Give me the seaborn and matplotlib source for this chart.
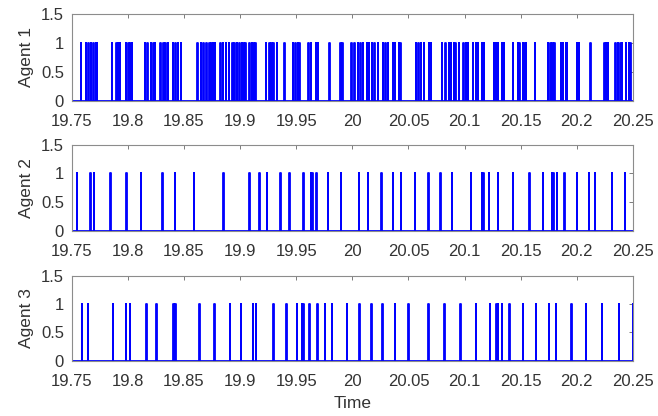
import matplotlib
matplotlib.use("Agg")
import matplotlib.pyplot as plt
import seaborn as sns
import pandas as pd

# switching instants (time of each pulse)
agent1_times = [
    19.7580, 19.7627, 19.7648, 19.7669, 19.7693, 19.7714, 19.7725,
    19.7859, 19.7895, 19.7910, 19.7930, 19.7981, 19.8002, 19.8020, 19.8037,
    19.8150, 19.8174, 19.8204, 19.8228, 19.8242, 19.8287, 19.8317, 19.8334,
    19.8355, 19.8400, 19.8424, 19.8444, 19.8471,
    19.8620, 19.8649, 19.8673, 19.8697, 19.8724, 19.8742, 19.8756, 19.8774,
    19.8822, 19.8846, 19.8872, 19.8899, 19.8929, 19.8947, 19.8970, 19.8991,
    19.9015, 19.9030, 19.9048, 19.9083, 19.9104, 19.9119, 19.9134,
    19.9229, 19.9261, 19.9276, 19.9297, 19.9327, 19.9395, 19.9469, 19.9490,
    19.9514, 19.9529, 19.9609, 19.9630, 19.9674, 19.9692, 19.9796, 19.9891,
    19.9909, 19.9992, 20.0016, 20.0046, 20.0070, 20.0093, 20.0129, 20.0147,
    20.0173, 20.0194, 20.0227, 20.0272, 20.0295, 20.0316, 20.0361, 20.0378,
    20.0414, 20.0426, 20.0566, 20.0586, 20.0610, 20.0634, 20.0679, 20.0699,
    20.0797, 20.0827, 20.0857, 20.0878, 20.0901, 20.0916, 20.0946, 20.0990,
    20.1008, 20.1029, 20.1074, 20.1097, 20.1115, 20.1154, 20.1169, 20.1258,
    20.1276, 20.1294, 20.1332, 20.1347, 20.1430, 20.1472, 20.1487, 20.1516,
    20.1531, 20.1543, 20.1623, 20.1742, 20.1763, 20.1781, 20.1799, 20.1858,
    20.1876, 20.1900, 20.1912, 20.2001, 20.2015, 20.2119, 20.2244, 20.2259,
    20.2274, 20.2342, 20.2363, 20.2387, 20.2402, 20.2437, 20.2461, 20.2476,
]
agent2_times = [
    19.7545, 19.7666, 19.7696, 19.7844, 19.7984, 19.8115, 19.8305, 19.8418,
    19.8587, 19.8849, 19.9080, 19.9169, 19.9238, 19.9359, 19.9439, 19.9564,
    19.9630, 19.9642, 19.9677, 19.9782, 19.9897, 20.0055, 20.0135, 20.0257,
    20.0361, 20.0429, 20.0554, 20.0678, 20.0782, 20.0887, 20.1053, 20.1154,
    20.1166, 20.1213, 20.1293, 20.1430, 20.1578, 20.1698, 20.1775, 20.1790,
    20.1822, 20.1888, 20.2000, 20.2108, 20.2158, 20.2309, 20.2425,
]
agent3_times = [
    19.7592, 19.7645, 19.7865, 19.7981, 19.8017, 19.8165, 19.8254, 19.8403,
    19.8421, 19.8635, 19.8768, 19.8908, 19.9006, 19.9113, 19.9140, 19.9297,
    19.9410, 19.9505, 19.9550, 19.9564, 19.9618, 19.9689, 19.9755, 19.9817,
    19.9951, 20.0061, 20.0168, 20.0268, 20.0379, 20.0500, 20.0678, 20.0818,
    20.0961, 20.1101, 20.1222, 20.1282, 20.1297, 20.1332, 20.1398, 20.1520,
    20.1632, 20.1751, 20.1810, 20.1950, 20.2078, 20.2220, 20.2372, 20.2496,
]
agent_names = ["Agent 1", "Agent 2", "Agent 3"]
x_ticks = [19.75, 19.8, 19.85, 19.9, 19.95, 20.0, 20.05, 20.1, 20.15, 20.2, 20.25]
x_tick_labels = ["19.75", "19.8", "19.85", "19.9", "19.95", "20", "20.05",
                 "20.1", "20.15", "20.2", "20.25"]
y_ticks = [0, 0.5, 1, 1.5]
y_tick_labels = ["0", "0.5", "1", "1.5"]
t_start, t_end = 19.75, 20.25
pulse_width = 0.0004


def pulse_train(times):
    # turn the event times into a 0/1 pulse signal
    xs, ys = [t_start], [0]
    for t in sorted(times):
        xs += [t, t, t + pulse_width, t + pulse_width]
        ys += [0, 1, 1, 0]
    xs.append(t_end)
    ys.append(0)
    return pd.DataFrame({"time": xs, "state": ys})


sns.set_theme(style="white")
plt.rcParams["font.family"] = ["Liberation Sans", "DejaVu Sans"]
plt.rcParams["xtick.direction"] = "in"
plt.rcParams["ytick.direction"] = "in"

fig = plt.figure(figsize=(6.58, 4.16), dpi=100)
# axes boxes (left, bottom, width, height) in figure fractions
boxes = [(0.109, 0.758, 0.853, 0.208),
         (0.109, 0.445, 0.853, 0.207),
         (0.109, 0.133, 0.853, 0.204)]

for name, times, box in zip(agent_names, [agent1_times, agent2_times, agent3_times], boxes):
    ax = fig.add_axes(box)
    df = pulse_train(times)
    sns.lineplot(data=df, x="time", y="state", sort=False, estimator=None,
                 color="#0000ff", linewidth=1.3, ax=ax)
    ax.set_xlim(t_start, t_end)
    ax.set_ylim(0, 1.5)
    ax.set_xticks(x_ticks)
    ax.set_xticklabels(x_tick_labels, fontsize=12, color="#333333")
    ax.set_yticks(y_ticks)
    ax.set_yticklabels(y_tick_labels, fontsize=12, color="#333333")
    ax.tick_params(top=True, right=True, length=3, width=0.6, color="#666666")
    ax.tick_params(axis="x", pad=9.5)
    ax.tick_params(axis="y", pad=5.5)
    for sp in ax.spines.values():
        sp.set_color("#8c8c8c")
        sp.set_linewidth(0.8)
    ax.set_ylabel(name, fontsize=12.5, color="#333333", labelpad=5)
    ax.set_xlabel("")

ax.set_xlabel("Time", fontsize=12.5, color="#333333", labelpad=5)

fig.savefig("out.png", dpi=100)
